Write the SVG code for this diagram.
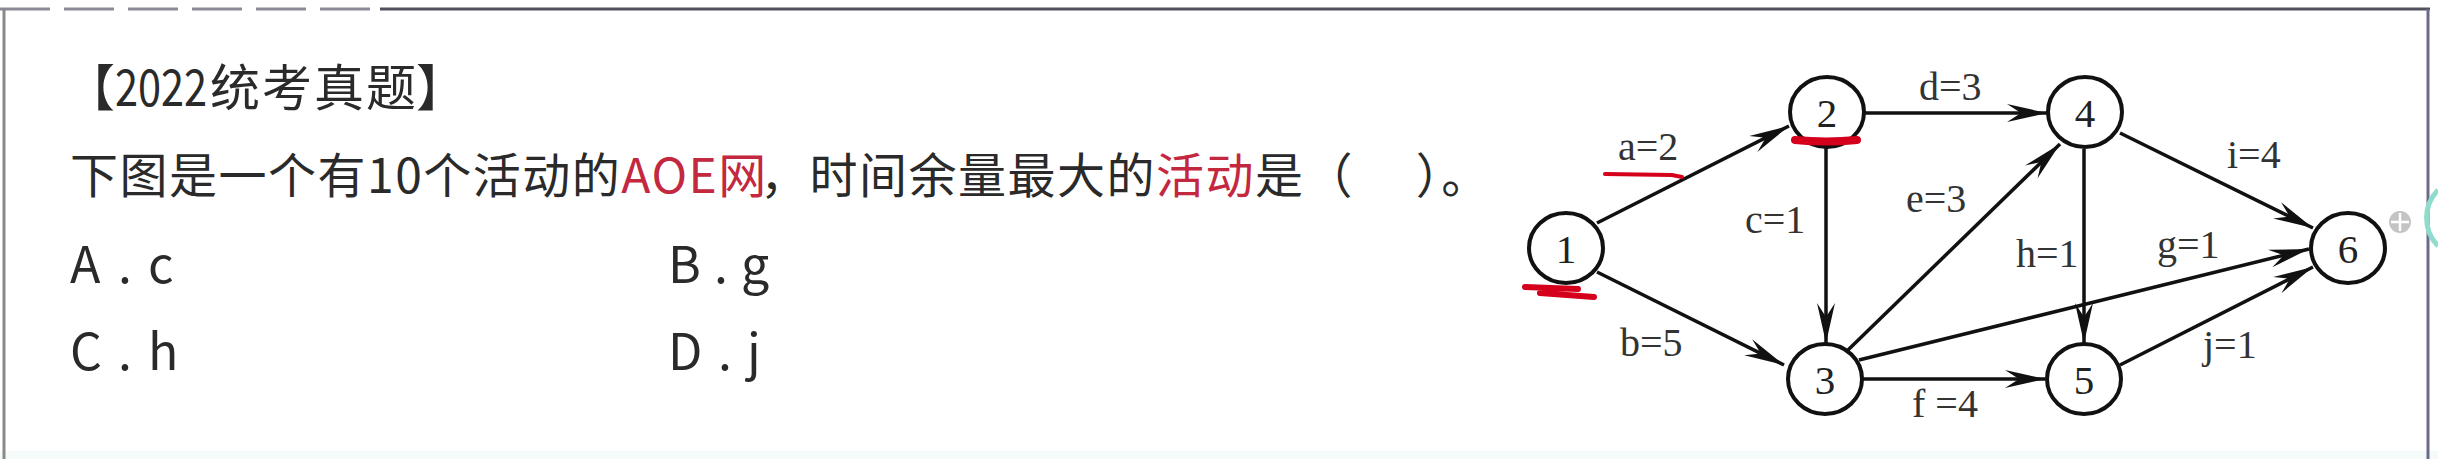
<svg xmlns="http://www.w3.org/2000/svg" width="2438" height="459" viewBox="0 0 2438 459">
<style>
.cjk{font-family:"Noto Sans CJK SC","Noto Sans",sans-serif;fill:#2a2a2a}
.red{fill:#c3283f}
.node ellipse{fill:#fff;stroke:#111;stroke-width:4}
.node text{font-family:"Liberation Serif","Times New Roman",serif;font-size:41px;fill:#222;text-anchor:middle}
.edge{stroke:#111;stroke-width:3.5;fill:none;marker-end:url(#arr)}
.lbl{font-family:"Liberation Serif","Times New Roman",serif;font-size:40px;fill:#333}
.mark{stroke:#d4001c;fill:none;stroke-linecap:round}
</style>
<defs>
<marker id="arr" markerUnits="userSpaceOnUse" viewBox="-42 -11 44 22" markerWidth="44" markerHeight="22" refX="0" refY="0" orient="auto">
<path d="M0,0 L-40,-9 L-26,0 L-40,9 Z" fill="#111"/>
</marker>
</defs>
<rect x="0" y="0" width="2438" height="459" fill="#fff"/>
<rect x="0" y="451" width="2438" height="8" fill="#f5fbfa"/>
<g id="frame">
<line x1="380" y1="9" x2="2430" y2="9" stroke="#50505f" stroke-width="3"/>
<line x1="0" y1="9" x2="380" y2="9" stroke="#8a8a96" stroke-width="3" stroke-dasharray="50 14"/>
<line x1="4" y1="9" x2="4" y2="459" stroke="#8a8a8a" stroke-width="3"/>
<line x1="2428" y1="9" x2="2428" y2="459" stroke="#6a6a8a" stroke-width="3"/>
</g>
<g id="question">
<text class="cjk" font-size="50" x="65" y="106">【</text>
<text class="cjk" font-size="50" transform="translate(115,106) scale(0.83,1)">2022</text>
<text class="cjk" font-size="50" y="106"><tspan x="210" letter-spacing="2">统考真题</tspan><tspan x="416">】</tspan></text>
<text class="cjk" font-size="48" y="193" letter-spacing="1.5" xml:space="preserve"><tspan x="70">下图是一个有10个活动的</tspan><tspan class="red">AOE网</tspan><tspan x="760">，时间余量最大的</tspan><tspan class="red">活动</tspan><tspan>是（　 ）。</tspan></text>
<text class="cjk" font-size="50" y="283"><tspan x="70">A</tspan><tspan x="118">.</tspan><tspan x="148">c</tspan></text>
<text class="cjk" font-size="50" y="283"><tspan x="668">B</tspan><tspan x="714">.</tspan><tspan x="741">g</tspan></text>
<text class="cjk" font-size="50" y="370"><tspan x="70">C</tspan><tspan x="118">.</tspan><tspan x="148">h</tspan></text>
<text class="cjk" font-size="50" y="370"><tspan x="668">D</tspan><tspan x="718">.</tspan><tspan x="747">j</tspan></text>
</g>
<g id="connectors">
<path class="edge" d="M1597,223 L1789,126"/>
<path class="edge" d="M1597,272 L1784,365"/>
<path class="edge" d="M1826,147 L1826,343"/>
<path class="edge" d="M1864,113 L2047,113"/>
<path class="edge" d="M1848,350 L2060,144"/>
<path class="edge" d="M1862,379 L2045,379"/>
<path class="edge" d="M1859,360 L2309,249"/>
<path class="edge" d="M2084,149 L2084,343"/>
<path class="edge" d="M2120,133 L2313,228"/>
<path class="edge" d="M2120,365 L2313,267"/>
</g>
<g id="edge-labels">
<text class="lbl" x="1618" y="160">a=2</text>
<text class="lbl" x="1919" y="100">d=3</text>
<text class="lbl" x="1745" y="233">c=1</text>
<text class="lbl" x="1906" y="212">e=3</text>
<text class="lbl" x="2227" y="168">i=4</text>
<text class="lbl" x="2016" y="267">h=1</text>
<text class="lbl" x="2157" y="258">g=1</text>
<text class="lbl" x="2203" y="358">j=1</text>
<text class="lbl" x="1620" y="356">b=5</text>
<text class="lbl" x="1912" y="417" xml:space="preserve">f =4</text>
</g>
<g id="node1" class="node"><ellipse cx="1566" cy="248" rx="37" ry="35"/><text x="1566" y="263">1</text></g>
<g id="node2" class="node"><ellipse cx="1827" cy="112" rx="37" ry="35"/><text x="1827" y="127">2</text></g>
<g id="node3" class="node"><ellipse cx="1825" cy="379" rx="37" ry="35"/><text x="1825" y="394">3</text></g>
<g id="node4" class="node"><ellipse cx="2085" cy="112" rx="37" ry="35"/><text x="2085" y="127">4</text></g>
<g id="node5" class="node"><ellipse cx="2084" cy="379" rx="37" ry="35"/><text x="2084" y="394">5</text></g>
<g id="node6" class="node"><ellipse cx="2348" cy="248" rx="37" ry="35"/><text x="2348" y="263">6</text></g>
<g id="annotations">
<path class="mark" d="M1605,174 L1672,175 L1682,177" stroke="#d0385a" stroke-width="4"/>
<path class="mark" d="M1795,140 Q1826,143 1857,140" stroke-width="8"/>
<path class="mark" d="M1525,287 L1578,289 M1540,293 L1594,297" stroke-width="6"/>
</g>
<g id="ui">
<circle cx="2400" cy="222" r="11" fill="#c4c4c4"/>
<path d="M2400,213 V231 M2391,222 H2409" stroke="#fff" stroke-width="2.5"/>
<path d="M2438,190 A40,40 0 0 0 2438,246" stroke="#8fdccd" stroke-width="5" fill="none"/>
</g>
</svg>
